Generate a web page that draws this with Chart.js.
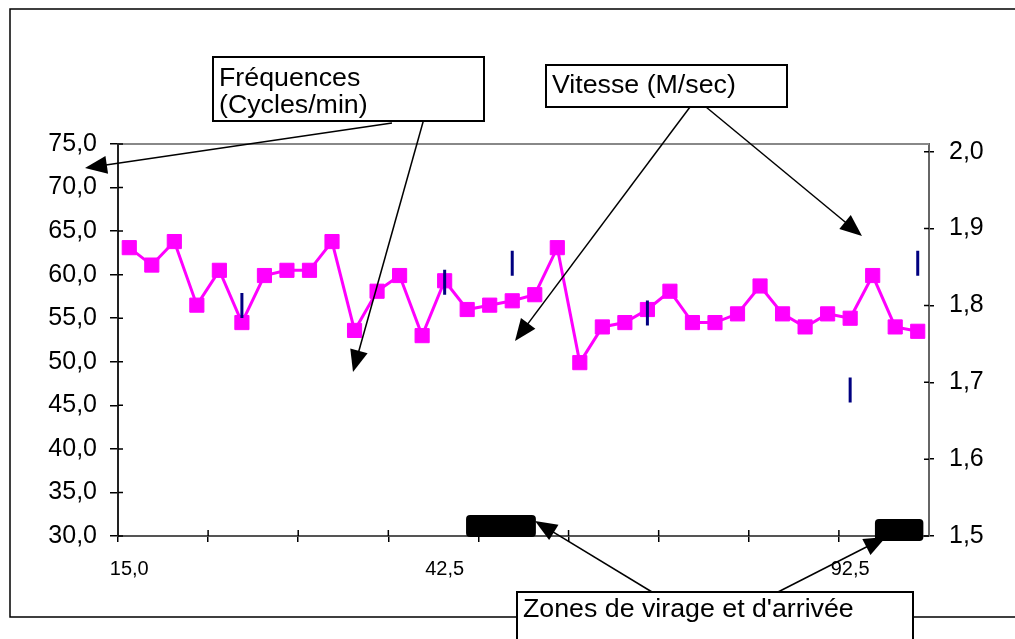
<!DOCTYPE html>
<html>
<head>
<meta charset="utf-8">
<script src="https://cdn.jsdelivr.net/npm/chart.js@4.4.0/dist/chart.umd.min.js"></script>
<style>
  html, body { margin: 0; padding: 0; background: #fff; overflow: hidden; }
</style>
</head>
<body>
<canvas id="chart" width="1015" height="639"></canvas>
<script>
const categories = [
  "15,0", "", "", "", "", "", "", "", "", "", "", "", "", "", "42,5", "", "", "",
  "", "", "", "", "", "", "", "", "", "", "", "", "", "", "92,5", "", "", "",
];
const frequences = [
  63.1, 61.1, 63.8, 56.5, 60.5, 54.5, 59.9, 60.5, 60.5, 63.8, 53.6, 58.1,
  59.9, 53.0, 59.3, 56.0, 56.5, 57.0, 57.7, 63.1, 49.9, 54.0, 54.5, 56.0,
  58.1, 54.5, 54.5, 55.5, 58.7, 55.5, 54.0, 55.5, 55.0, 59.9, 54.0, 53.5,
];
const vitesse = [
  null, null, null, null, null, 1.8, null, null, null, null, null, null,
  null, null, 1.83, null, null, 1.855, null, null, null, null, null, 1.79,
  null, null, null, null, null, null, null, null, 1.69, null, null, 1.855,
];
const leftTicks = [30, 35, 40, 45, 50, 55, 60, 65, 70, 75];
const rightTicks = [1.5, 1.6, 1.7, 1.8, 1.9, 2.0];
// zones de virage / arrivée, in category index units
const zones = [
  [14.95, 18.05],
  [33.1, 35.25],
];

const FONT = "Liberation Sans, Arial, sans-serif";
const fmt = (v) => Number(v).toFixed(1).replace(".", ",");

// text boxes with their arrows (canvas pixels)
const notes = [
  { lines: ["Fréquences", "(Cycles/min)"], box: [213, 57, 271, 64], textY: 86,
    arrows: [[392, 123, 85, 168], [425, 115, 353, 372]] },
  { lines: ["Vitesse (M/sec)"], box: [546, 65, 241, 42], textY: 93,
    arrows: [[690, 107, 515, 341], [706, 107, 862, 236]] },
  { lines: ["Zones de virage et d'arrivée"], box: [517, 592, 396, 60], textY: 617,
    arrows: [[652, 592, 535, 521], [778, 592, 886, 537]] },
];

function drawArrow(ctx, x1, y1, x2, y2) {
  const ang = Math.atan2(y2 - y1, x2 - x1);
  const len = 22, half = 9;
  const cos = Math.cos(ang), sin = Math.sin(ang);
  ctx.beginPath();
  ctx.moveTo(x1, y1);
  ctx.lineTo(x2 - cos * len * 0.8, y2 - sin * len * 0.8);
  ctx.stroke();
  ctx.beginPath();
  ctx.moveTo(x2, y2);
  ctx.lineTo(x2 - cos * len - sin * half, y2 - sin * len + cos * half);
  ctx.lineTo(x2 - cos * len + sin * half, y2 - sin * len - cos * half);
  ctx.closePath();
  ctx.fill();
}

function roundRect(ctx, x, y, w, h, r) {
  ctx.beginPath();
  ctx.moveTo(x + r, y);
  ctx.lineTo(x + w - r, y);
  ctx.quadraticCurveTo(x + w, y, x + w, y + r);
  ctx.lineTo(x + w, y + h - r);
  ctx.quadraticCurveTo(x + w, y + h, x + w - r, y + h);
  ctx.lineTo(x + r, y + h);
  ctx.quadraticCurveTo(x, y + h, x, y + h - r);
  ctx.lineTo(x, y + r);
  ctx.quadraticCurveTo(x, y, x + r, y);
  ctx.closePath();
}

const decorations = {
  id: "decorations",
  beforeDraw(chart) {
    const { ctx } = chart;
    ctx.save();
    ctx.fillStyle = "#fff";
    ctx.fillRect(0, 0, chart.width, chart.height);
    // outer frame, its right side lies outside the picture
    ctx.strokeStyle = "#000";
    ctx.lineWidth = 1.5;
    ctx.beginPath();
    ctx.moveTo(chart.width, 9);
    ctx.lineTo(10, 9);
    ctx.lineTo(10, 617);
    ctx.lineTo(chart.width, 617);
    ctx.stroke();
    ctx.restore();
  },
  beforeDatasetsDraw(chart) {
    const { ctx, chartArea: a, scales } = chart;
    ctx.save();
    // top border of the plot area
    ctx.strokeStyle = "#888";
    ctx.lineWidth = 2;
    ctx.beginPath();
    ctx.moveTo(a.left, a.top);
    ctx.lineTo(a.right, a.top);
    ctx.stroke();
    // inner half of the crossing tick marks
    ctx.strokeStyle = "#000";
    ctx.lineWidth = 1.5;
    ctx.beginPath();
    leftTicks.forEach((v) => {
      const y = scales.y.getPixelForValue(v);
      ctx.moveTo(a.left, y);
      ctx.lineTo(a.left + 5, y);
    });
    rightTicks.forEach((v) => {
      const y = scales.y2.getPixelForValue(v);
      ctx.moveTo(a.right - 5, y);
      ctx.lineTo(a.right, y);
    });
    for (let i = 4; i < categories.length; i += 4) {
      const x = scales.x.getPixelForValue(i - 0.5);
      ctx.moveTo(x, a.bottom);
      ctx.lineTo(x, a.bottom - 6);
    }
    ctx.stroke();
    ctx.restore();
  },
  afterDraw(chart) {
    const { ctx, chartArea: a, scales } = chart;
    ctx.save();
    ctx.fillStyle = "#000";
    zones.forEach(([from, to], i) => {
      const x1 = scales.x.getPixelForValue(from);
      const x2 = scales.x.getPixelForValue(to);
      const top = a.bottom - 21 + i * 4;
      roundRect(ctx, x1, top, x2 - x1, 22, 4);
      ctx.fill();
    });

    notes.forEach((n) => {
      ctx.lineWidth = 1.5;
      ctx.strokeStyle = "#000";
      ctx.fillStyle = "#000";
      n.arrows.forEach(([x1, y1, x2, y2]) => drawArrow(ctx, x1, y1, x2, y2));
      const [bx, by, bw, bh] = n.box;
      ctx.fillStyle = "#fff";
      ctx.fillRect(bx, by, bw, bh);
      ctx.lineWidth = 2;
      ctx.strokeRect(bx, by, bw, bh);
      ctx.fillStyle = "#000";
      ctx.font = `25px ${FONT}`;
      ctx.textBaseline = "alphabetic";
      n.lines.forEach((t, k) => {
        // the original picture is a little wider than tall
        ctx.save();
        ctx.translate(bx + 6, n.textY + k * 27);
        ctx.scale(1.07, 1);
        ctx.fillText(t, 0, 0);
        ctx.restore();
      });
    });
    ctx.restore();
  },
};

new Chart(document.getElementById("chart"), {
  type: "line",
  data: {
    labels: categories,
    datasets: [
      {
        label: "Vitesse (M/sec)",
        data: vitesse,
        yAxisID: "y2",
        showLine: false,
        pointStyle: "line",
        rotation: 90,
        pointRadius: 12.5,
        pointBorderWidth: 3,
        borderColor: "#000080",
        backgroundColor: "#000080",
        order: 0,
      },
      {
        label: "Fréquences (Cycles/min)",
        data: frequences,
        yAxisID: "y",
        borderColor: "#ff00ff",
        backgroundColor: "#ff00ff",
        borderWidth: 3,
        pointStyle: "rect",
        pointRadius: 10,
        pointBorderWidth: 1,
        tension: 0,
        order: 1,
      },
    ],
  },
  options: {
    responsive: false,
    animation: false,
    devicePixelRatio: 1,
    layout: { padding: { top: 144, bottom: 53, left: 0, right: 0 } },
    plugins: {
      legend: { display: false },
      tooltip: { enabled: false },
    },
    scales: {
      x: {
        offset: true,
        grid: {
          offset: true,
          drawOnChartArea: false,
          tickLength: 6,
          lineWidth: 1.5,
          color: (c) => (c.index % 4 === 0 ? "#000" : "transparent"),
        },
        border: { color: "#555", width: 2 },
        ticks: {
          autoSkip: false,
          maxRotation: 0,
          padding: 15,
          color: "#000",
          font: { family: FONT, size: 20 },
        },
        afterFit: (s) => { s.height = 50; },
      },
      y: {
        position: "left",
        min: 30,
        max: 75,
        afterBuildTicks: (s) => { s.ticks = leftTicks.map((v) => ({ value: v })); },
        grid: { drawOnChartArea: false, tickLength: 8, lineWidth: 1.5, color: "#000" },
        border: { color: "#222", width: 2 },
        ticks: { callback: fmt, padding: 13, color: "#000", font: { family: FONT, size: 25 } },
        afterFit: (s) => { s.width = 118; },
      },
      y2: {
        position: "right",
        min: 1.5,
        max: 2.01,
        afterBuildTicks: (s) => { s.ticks = rightTicks.map((v) => ({ value: v })); },
        grid: { drawOnChartArea: false, tickLength: 5, lineWidth: 1.5, color: "#000" },
        border: { color: "#666", width: 2 },
        ticks: { callback: fmt, padding: 15, color: "#000", font: { family: FONT, size: 25 } },
        afterFit: (s) => { s.width = 86; },
      },
    },
  },
  plugins: [decorations],
});
</script>
</body>
</html>
